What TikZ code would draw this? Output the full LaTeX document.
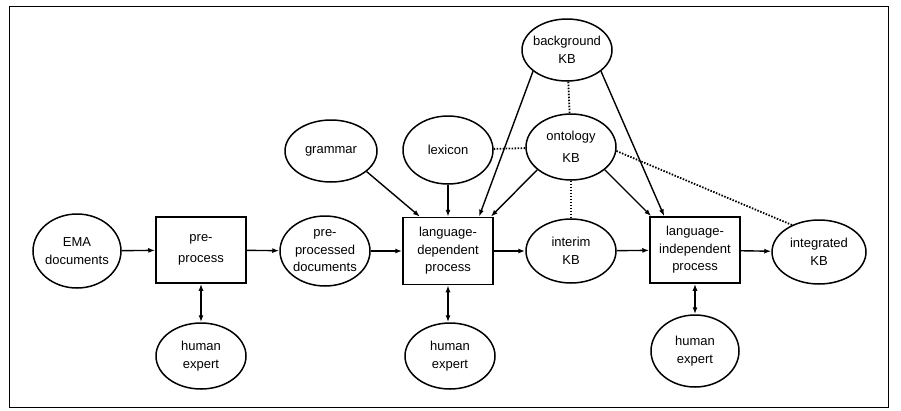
\documentclass[tikz,border=0pt]{standalone}
\usepackage{fontspec}
\setmainfont{Liberation Sans}
\usetikzlibrary{shapes.geometric,arrows.meta,calc}
\begin{document}
\begin{tikzpicture}[x=1pt,y=-1pt,
  font=\fontsize{13}{17.5}\selectfont,
  oval/.style={draw,ellipse,line width=1.5pt,inner sep=-8pt,
    minimum width=90pt,minimum height=66pt,align=center},
  proc/.style={draw,rectangle,line width=1.5pt,inner sep=0pt,
    minimum width=90pt,minimum height=66pt,align=center},
  tip/.tip={Latex[length=7pt,width=5pt]},
  flow/.style={line width=1.4pt,-tip},
  both/.style={line width=1.4pt,tip-tip},
  link/.style={line width=1.8pt,dash pattern=on 1.5pt off 1.5pt}]

\useasboundingbox (0,0) rectangle (901,410);
\draw[line width=1pt] (9,6) rectangle (888,407);

% main processing row
\node[oval,minimum width=88pt,minimum height=74pt] (ema) at (77,251) {EMA\\documents};
\node[proc] (pp) at (201,250) {pre-\\[4pt]process};
\node[oval,minimum height=70pt] (pd) at (325,251) {pre-\\processed\\documents};
\node[proc,minimum height=67pt] (ld) at (448,251) {language-\\dependent\\process};
\node[oval,minimum height=64pt] (im) at (571,251) {interim\\KB};
\node[proc] (li) at (695,250) {language-\\independent\\process};
\node[oval,minimum width=94pt,minimum height=64pt] (ig) at (819,252) {integrated\\KB};

% knowledge sources
\node[oval,minimum width=92pt,minimum height=62pt] (gr) at (331,151) {grammar};
\node[oval,minimum height=68pt] (lx) at (448,150) {lexicon};
\node[oval,minimum height=62pt] (bg) at (567,50) {background\\KB};
\node[oval] (on) at (571,147) {ontology\\[5pt]KB};

% human experts
\node[oval] (h1) at (201,356) {human\\expert};
\node[oval] (h2) at (450,356) {human\\expert};
\node[oval,minimum width=88pt,minimum height=72pt] (h3) at (695,351) {human\\expert};

% data flow
\draw[flow] (ema) -- (pp);
\draw[flow] (pp) -- (pd);
\draw[flow] (pd) -- (ld);
\draw[flow] (ld) -- (im);
\draw[flow] (im) -- (li);
\draw[flow] (li) -- (ig);

% knowledge feeding the processes
\draw[flow] (gr.330) -- ([xshift=-28pt]ld.north);
\draw[flow] (lx) -- (ld);
\draw[flow] (bg.212) -- ([xshift=31pt]ld.north);
\draw[flow] (on.214) -- ([xshift=-3pt]ld.north east);
\draw[flow] (on.326) -- ([xshift=2pt]li.north west);
\draw[flow] (bg.328) -- ([xshift=15pt]li.north west);

% interaction with experts
\draw[both] (pp) -- (h1);
\draw[both] (ld.south) -- (ld.south |- h2.north);
\draw[both] (li) -- (h3);

% ontology relations
\draw[link] (bg) -- (on);
\draw[link] (lx) -- (on);
\draw[link] (on) -- (im);
\draw[link] (on.355) -- (ig.135);
\end{tikzpicture}
\end{document}
